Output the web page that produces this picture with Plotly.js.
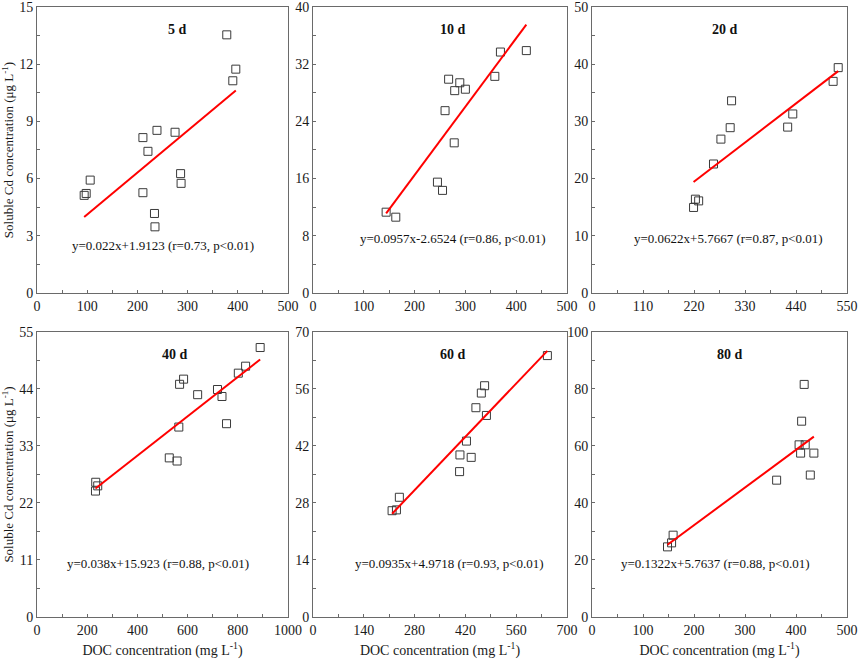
<!DOCTYPE html>
<html>
<head>
<meta charset="utf-8">
<script src="https://cdn.plot.ly/plotly-3.0.1.min.js"></script>
<style>
  html, body { margin: 0; padding: 0; background: #fff; }
  #chart { width: 858px; height: 660px; }
</style>
</head>
<body>
<div id="chart"></div>
<script>
// incubation days
const days = ["5 d", "10 d", "20 d", "40 d", "60 d", "80 d"];

// DOC (mg/L) vs soluble Cd (ug/L)
const doc5 = [94, 98, 106, 211, 221, 239, 211, 234, 235, 275, 286, 287, 378, 390, 396];
const cd5 = [5.12, 5.22, 5.92, 8.15, 7.43, 8.53, 5.26, 4.17, 3.47, 8.43, 6.26, 5.75, 13.54, 11.13, 11.74];

const doc10 = [144, 163, 245, 255, 260, 267, 279, 289, 300, 278, 358, 369, 420];
const cd10 = [11.3, 10.6, 15.5, 14.35, 25.5, 29.9, 28.3, 29.4, 28.5, 21.0, 30.3, 33.7, 33.9];

const doc20 = [219, 223, 230, 262, 278, 298, 301, 422, 433, 520, 531];
const cd20 = [14.95, 16.4, 16.1, 22.55, 26.9, 28.9, 33.6, 29.0, 31.3, 37.0, 39.4];

const doc40 = [234, 233, 242, 527, 558, 565, 568, 584, 640, 719, 737, 755, 802, 831, 889];
const cd40 = [26.0, 24.3, 25.3, 30.7, 30.1, 36.65, 44.9, 45.9, 42.9, 43.9, 42.55, 37.3, 47.05, 48.4, 52.0];

const doc60 = [218, 230, 238, 404, 405, 423, 436, 449, 464, 473, 478, 646];
const cd60 = [26.1, 26.3, 29.4, 35.7, 39.8, 43.2, 39.2, 51.4, 55.0, 56.8, 49.5, 64.2];

const doc80 = [148, 156, 159, 362, 406, 418, 409, 411, 416, 428, 435];
const cd80 = [24.6, 26.0, 28.7, 48.0, 60.4, 60.4, 57.5, 68.7, 81.6, 49.8, 57.5];

// regression lines
const slopes = [0.022, 0.0957, 0.0622, 0.038, 0.0935, 0.1322];
const intercepts = [1.9123, -2.6524, 5.7667, 15.923, 4.9718, 5.7637];
const eqText = [
  "y=0.022x+1.9123 (r=0.73, p<0.01)",
  "y=0.0957x-2.6524 (r=0.86, p<0.01)",
  "y=0.0622x+5.7667 (r=0.87, p<0.01)",
  "y=0.038x+15.923 (r=0.88, p<0.01)",
  "y=0.0935x+4.9718 (r=0.93, p<0.01)",
  "y=0.1322x+5.7637 (r=0.88, p<0.01)"
];

// axis ranges and tick steps
const xMax = [500, 500, 550, 1000, 700, 500];
const xStep = [100, 100, 110, 200, 140, 100];
const yMax = [15, 40, 50, 55, 70, 100];
const yStep = [3, 8, 10, 11, 14, 20];

const docs = [doc5, doc10, doc20, doc40, doc60, doc80];
const cds = [cd5, cd10, cd20, cd40, cd60, cd80];

// panel placement (paper fractions)
const colDom = [[0.0431, 0.3357], [0.3648, 0.6608], [0.690, 0.9872]];
const rowDom = [[0.5561, 0.9894], [0.0652, 0.4970]];
const eqPos = [[0.50, 0.133], [0.55, 0.157], [0.537, 0.157], [0.482, 0.154], [0.539, 0.154], [0.486, 0.154]];
const titlePos = [0.56, 0.55, 0.52, 0.55, 0.55, 0.54];

const font = "'Liberation Serif', 'Times New Roman', serif";
const frame = "#6a6a6a";

const data = [];
const layout = {
  width: 858,
  height: 660,
  margin: { l: 0, r: 0, t: 0, b: 0 },
  paper_bgcolor: "#fff",
  plot_bgcolor: "#fff",
  showlegend: false,
  font: { family: font, size: 14, color: "#1a1a1a" },
  annotations: []
};

days.forEach((d, i) => {
  const n = i + 1;
  const xa = n === 1 ? "x" : "x" + n;
  const ya = n === 1 ? "y" : "y" + n;
  const xs = docs[i];

  data.push({
    type: "scatter",
    mode: "markers",
    x: xs,
    y: cds[i],
    xaxis: xa,
    yaxis: ya,
    marker: { symbol: "square-open", size: 8, color: "#3a3a3a", line: { width: 1 } },
    hoverinfo: "x+y"
  });

  const x0 = Math.min(...xs), x1 = Math.max(...xs);
  data.push({
    type: "scatter",
    mode: "lines",
    x: [x0, x1],
    y: [slopes[i] * x0 + intercepts[i], slopes[i] * x1 + intercepts[i]],
    xaxis: xa,
    yaxis: ya,
    line: { color: "#ff0000", width: 2 },
    hoverinfo: "skip"
  });

  const col = i % 3, row = Math.floor(i / 3);
  const axBase = {
    showline: true,
    mirror: true,
    linecolor: frame,
    linewidth: 1,
    showgrid: false,
    zeroline: false,
    ticks: "inside",
    ticklen: 3,
    tickcolor: frame,
    ticklabeloverflow: "allow",
    tickfont: { family: font, size: 14, color: "#1a1a1a" },
    fixedrange: true
  };

  const xAxis = Object.assign({}, axBase, {
    domain: colDom[col],
    anchor: ya,
    range: [0, xMax[i]],
    tick0: 0,
    dtick: xStep[i],
    minor: { dtick: xStep[i] / 2, ticks: "inside", ticklen: 3, tickcolor: frame }
  });
  if (row === 1) {
    xAxis.title = { text: "DOC concentration (mg L<sup>-1</sup>)", font: { family: font, size: 14 }, standoff: 8 };
  }
  layout["xaxis" + (n === 1 ? "" : n)] = xAxis;

  const yAxis = Object.assign({}, axBase, {
    domain: rowDom[row],
    anchor: xa,
    range: [0, yMax[i]],
    tick0: 0,
    dtick: yStep[i],
    minor: { dtick: yStep[i] / 2, ticks: "inside", ticklen: 3, tickcolor: frame }
  });
  if (col === 0) {
    yAxis.title = { text: "Soluble Cd concentration (μg L<sup>-1</sup>)", font: { family: font, size: 13 }, standoff: 4 };
  }
  layout["yaxis" + (n === 1 ? "" : n)] = yAxis;

  layout.annotations.push({
    xref: xa + " domain",
    yref: ya + " domain",
    x: titlePos[i],
    y: 0.955,
    text: "<b>" + d + "</b>",
    showarrow: false,
    font: { family: font, size: 14, color: "#111" }
  });

  layout.annotations.push({
    xref: xa + " domain",
    yref: ya + " domain",
    x: eqPos[i][0],
    y: eqPos[i][1],
    text: eqText[i],
    showarrow: false,
    font: { family: font, size: 13, color: "#111" }
  });
});

Plotly.newPlot("chart", data, layout, { displayModeBar: false, staticPlot: true });
</script>
</body>
</html>
